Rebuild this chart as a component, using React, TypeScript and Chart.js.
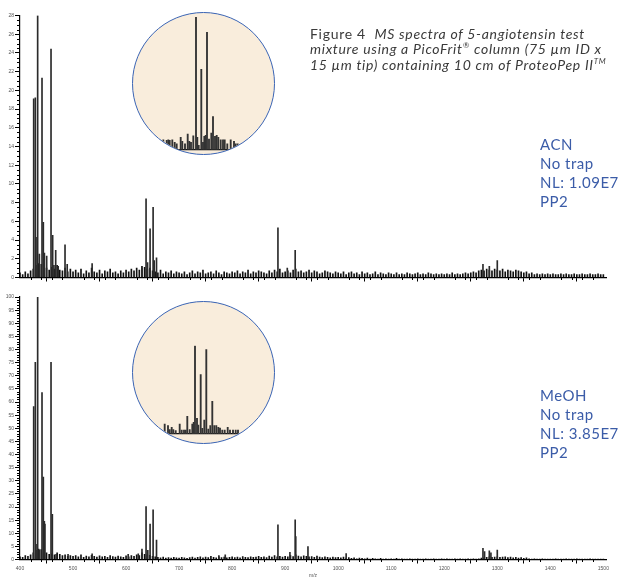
import React, { useEffect, useRef } from 'react';
import { Chart, registerables } from 'chart.js';
Chart.register(...registerables);

// ---------- DATA ----------
// Main peaks (m/z, intensity) — top panel (ACN), intensity axis 0..28
const topPeakMz = [425.8, 428.9, 430.2, 433.3, 436.5, 441.5, 444.0, 446.0, 450.3, 458.5, 461.6, 464.0, 467.3, 472.0, 484.9, 489.0, 536.0, 630.0, 637.7, 640.5, 645.3, 651.0, 653.0, 657.4, 886.4, 904.0, 918.9, 1273.0, 1285.0, 1300.0];
const topPeakInt = [19.1, 19.2, 4.3, 28.0, 2.5, 21.3, 5.9, 2.6, 2.3, 24.4, 4.5, 1.3, 2.9, 1.2, 3.5, 1.4, 1.5, 1.0, 8.4, 1.6, 5.2, 7.5, 1.8, 2.1, 5.3, 1.0, 2.9, 1.4, 1.2, 1.8];

// Main peaks — bottom panel (MeOH), relative abundance 0..100
const botPeakMz = [425.8, 428.9, 430.2, 433.3, 436.4, 441.5, 444.0, 445.9, 447.0, 458.5, 461.0, 468.0, 490.6, 536.0, 604.0, 623.0, 630.0, 637.7, 641.0, 645.3, 651.0, 657.4, 775.0, 787.0, 886.4, 909.0, 918.9, 920.0, 943.0, 1015.0, 1273.0, 1276.0, 1285.0, 1288.0, 1300.0];
const botPeakInt = [58.3, 75.1, 5.8, 100, 3.7, 63.6, 31.4, 14.5, 13.5, 75.1, 17.2, 2.0, 2.0, 2.2, 2.0, 2.2, 4.0, 20.2, 3.5, 13.5, 18.9, 7.4, 1.5, 1.8, 13.2, 2.7, 15.1, 8.7, 4.9, 2.3, 4.3, 3.0, 3.3, 2.5, 3.6];

// Baseline noise, sampled every 5 m/z from 400 to 1500
const noiseStartMz = 400;
const noiseStepMz = 5;
const topNoise = [
  0.5, 0.3, 0.6, 0.4, 0.7, 0.9, 1.3, 1.5, 1.4, 1.2, 1.0, 0.8, 1.1, 0.9, 1.3, 0.8, 0.7, 1.0, 0.6, 0.9,
  0.6, 0.8, 0.5, 0.9, 0.4, 0.7, 0.5, 1.0, 0.6, 0.5, 0.8, 0.4, 0.7, 0.6, 0.9, 0.5, 0.6, 0.4, 0.7, 0.5,
  0.8, 0.6, 0.9, 0.7, 1.0, 0.8, 1.2, 1.1, 0.9, 1.0, 0.7, 0.6, 0.5, 0.8, 0.4, 0.6, 0.5, 0.7, 0.4, 0.6,
  0.5, 0.4, 0.6, 0.3, 0.5, 0.7, 0.4, 0.6, 0.5, 0.8, 0.4, 0.5, 0.6, 0.4, 0.7, 0.5, 0.3, 0.6, 0.5, 0.4,
  0.6, 0.5, 0.7, 0.4, 0.6, 0.5, 0.8, 0.4, 0.6, 0.5, 0.7, 0.6, 0.5, 0.4, 0.7, 0.5, 0.8, 0.6, 0.9, 0.5,
  0.6, 0.7, 0.5, 0.8, 0.9, 0.6, 0.7, 0.5, 0.6, 0.8, 0.5, 0.7, 0.6, 0.4, 0.5, 0.7, 0.6, 0.5, 0.4, 0.6,
  0.5, 0.4, 0.6, 0.3, 0.5, 0.6, 0.4, 0.5, 0.3, 0.6, 0.4, 0.5, 0.3, 0.4, 0.6, 0.3, 0.5, 0.4, 0.3, 0.5,
  0.4, 0.3, 0.5, 0.3, 0.4, 0.3, 0.5, 0.4, 0.3, 0.4, 0.5, 0.3, 0.4, 0.3, 0.5, 0.4, 0.3, 0.4, 0.3, 0.4,
  0.3, 0.4, 0.3, 0.5, 0.3, 0.4, 0.3, 0.4, 0.5, 0.4, 0.5, 0.6, 0.5, 0.7, 0.8, 0.7, 0.9, 0.8, 0.7, 0.9,
  0.8, 0.7, 0.9, 0.6, 0.8, 0.7, 0.6, 0.8, 0.7, 0.6, 0.5, 0.6, 0.4, 0.5, 0.3, 0.4, 0.3, 0.4, 0.3, 0.4,
  0.3, 0.4, 0.3, 0.3, 0.4, 0.3, 0.4, 0.3, 0.3, 0.4, 0.3, 0.3, 0.4, 0.3, 0.3, 0.4, 0.3, 0.3, 0.4, 0.3,
  0.3,
];
const botNoise = [
  1.0, 0.8, 1.5, 1.2, 1.8, 2.5, 3.5, 4.0, 3.8, 3.0, 2.5, 2.0, 2.2, 1.8, 2.5, 2.0, 1.5, 1.8, 1.2, 1.5,
  1.2, 1.5, 1.0, 1.8, 0.8, 1.3, 1.0, 1.6, 1.2, 0.9, 1.4, 1.0, 1.2, 0.8, 1.5, 1.1, 0.9, 1.3, 1.0, 0.8,
  1.4, 1.0, 1.5, 1.2, 1.8, 1.5, 2.5, 2.0, 1.8, 1.6, 1.2, 1.0, 0.8, 0.6, 0.9, 0.5, 0.7, 0.5, 0.8, 0.6,
  0.5, 0.8, 0.6, 0.4, 0.7, 0.9, 0.5, 0.8, 1.0, 0.6, 0.9, 0.7, 1.2, 0.8, 0.6, 1.0, 0.7, 0.9, 0.6, 0.8,
  1.0, 0.7, 0.9, 0.6, 1.1, 0.8, 0.7, 1.0, 0.8, 0.9, 1.2, 0.8, 1.0, 0.7, 1.3, 0.9, 1.5, 1.0, 1.2, 0.9,
  1.2, 1.0, 1.5, 1.1, 1.8, 1.3, 1.0, 1.4, 1.2, 1.0, 1.1, 0.8, 1.3, 0.9, 0.7, 1.0, 0.8, 0.6, 0.9, 0.7,
  0.8, 0.6, 0.9, 0.5, 0.7, 0.4, 0.6, 0.3, 0.5, 0.4, 0.3, 0.5, 0.2, 0.4, 0.3, 0.2, 0.4, 0.2, 0.3, 0.2,
  0.3, 0.2, 0.4, 0.2, 0.3, 0.2, 0.2, 0.3, 0.2, 0.2, 0.3, 0.2, 0.2, 0.3, 0.2, 0.2, 0.3, 0.2, 0.2, 0.3,
  0.2, 0.3, 0.2, 0.2, 0.3, 0.2, 0.3, 0.2, 0.2, 0.3, 0.2, 0.3, 0.2, 0.3, 0.5, 0.6, 0.8, 1.0, 0.8, 0.9,
  1.0, 0.8, 0.9, 1.0, 0.7, 0.9, 0.6, 0.8, 0.5, 0.7, 0.4, 0.6, 0.3, 0.2, 0.3, 0.2, 0.2, 0.3, 0.2, 0.2,
  0.2, 0.2, 0.3, 0.2, 0.2, 0.2, 0.3, 0.2, 0.2, 0.2, 0.3, 0.2, 0.2, 0.2, 0.2, 0.3, 0.2, 0.2, 0.2, 0.2,
  0.2,
];

// Zoomed insets (m/z, relative intensity %)
const topInsetMz = [428.23, 428.57, 428.73, 428.87, 429.13, 429.37, 429.57, 429.97, 430.13, 430.4, 430.67, 430.83, 431.0, 431.23, 431.5, 431.63, 431.77, 432.03, 432.2, 432.33, 432.47, 432.6, 432.8, 433.03, 433.2, 433.4, 433.57, 433.73, 433.97, 434.2, 434.37, 434.63, 434.97, 435.3, 435.47, 435.67];
const topInsetInt = [7.5, 7.0, 7.5, 7.0, 7.5, 5.5, 4.5, 9.3, 6.3, 4.5, 11.8, 6.3, 5.5, 10.5, 100, 9.3, 3.3, 60.5, 5.5, 10.0, 10.8, 88.4, 8.0, 12.5, 24.9, 10.0, 10.8, 9.3, 7.5, 7.5, 7.5, 4.5, 7.5, 6.3, 4.5, 4.5];
const botInsetMz = [428.37, 428.7, 428.87, 429.07, 429.23, 429.47, 429.87, 430.07, 430.3, 430.47, 430.63, 430.87, 431.13, 431.27, 431.4, 431.6, 431.73, 431.97, 432.13, 432.33, 432.53, 432.73, 432.93, 433.13, 433.33, 433.53, 433.73, 433.9, 434.13, 434.37, 434.67, 434.9, 435.2, 435.47, 435.7];
const botInsetInt = [11.3, 9.4, 4.9, 7.5, 4.9, 3.8, 11.3, 4.5, 4.5, 4.5, 20.0, 4.9, 11.3, 13.2, 100, 17.7, 10.2, 67.2, 6.4, 15.8, 95.5, 5.7, 9.4, 37.0, 9.4, 9.4, 7.5, 6.8, 4.5, 4.5, 7.5, 4.5, 4.5, 4.5, 4.5];
const insetMinMz = 425;
const insetMaxMz = 439.3;

// Tick labels
const xTickValues = [400, 500, 600, 700, 800, 900, 1000, 1100, 1200, 1300, 1400, 1500];
const topYTicks = [0, 2, 4, 6, 8, 10, 12, 14, 16, 18, 20, 22, 24, 26, 28];
const botYTicks = [0, 5, 10, 15, 20, 25, 30, 35, 40, 45, 50, 55, 60, 65, 70, 75, 80, 85, 90, 95, 100];

// Text
const titleLines = ['MS spectra of 5-angiotensin test', 'mixture using a PicoFrit', ' column (75 µm ID x', '15 µm tip) containing 10 cm of ProteoPep II'];
const topLabels = ['ACN', 'No trap', 'NL: 1.09E7', 'PP2'];
const botLabels = ['MeOH', 'No trap', 'NL: 3.85E7', 'PP2'];

// ---------- helpers ----------
function range(a: number, b: number, step: number) {
  const out: number[] = [];
  for (let v = a; v <= b + 1e-9; v += step) out.push(Math.round(v * 1000) / 1000);
  return out;
}

const minorTickPlugin = {
  id: 'minorTicks',
  afterDraw(chart: any, _args: any, opts: any) {
    if (!opts || !opts.yMinor) return;
    const { ctx } = chart;
    const xs = chart.scales.x;
    const ys = chart.scales.y;
    ctx.save();
    ctx.strokeStyle = '#000';
    ctx.lineWidth = 1;
    ctx.beginPath();
    for (const v of opts.yMinor) {
      const p = Math.round(ys.getPixelForValue(v)) + 0.5;
      ctx.moveTo(ys.right - 3, p);
      ctx.lineTo(ys.right, p);
    }
    for (const v of opts.xMinor) {
      const p = Math.round(xs.getPixelForValue(v)) + 0.5;
      ctx.moveTo(p, xs.top);
      ctx.lineTo(p, xs.top + 2.5);
    }
    ctx.stroke();
    ctx.restore();
  },
};

const tickFont = { size: 5, family: 'Liberation Sans, Arial, sans-serif' };

type SpecProps = {
  top: number; height: number; peaksMz: number[]; peaksInt: number[]; noise: number[];
  yMax: number; yTicks: number[]; yMinorStep: number; showXLabels: boolean;
  padTop: number; padBottom: number; xAxisHeight: number;
};

function Spectrum(p: SpecProps) {
  const ref = useRef<HTMLCanvasElement>(null);
  useEffect(() => {
    if (!ref.current) return;
    const noiseData = p.noise.map((v, i) => ({ x: noiseStartMz + i * noiseStepMz, y: v }));
    const peakData = p.peaksMz.map((m, i) => ({ x: m, y: p.peaksInt[i] }));
    const yMinor = range(0, p.yMax, p.yMinorStep).filter((v) => !p.yTicks.includes(v));
    const xMinor = range(400, 1500, 20).filter((v) => !xTickValues.includes(v));
    const chart = new Chart(ref.current, {
      type: 'bar',
      data: {
        datasets: [
          { data: peakData as any, backgroundColor: '#2b2b2b', barThickness: 1, grouped: false } as any,
          { data: noiseData as any, backgroundColor: '#111', barThickness: 1, grouped: false } as any,
        ],
      },
      options: {
        animation: false,
        responsive: false,
        events: [],
        layout: { padding: { left: 0, right: 18, top: p.padTop, bottom: p.padBottom } },
        plugins: {
          legend: { display: false },
          tooltip: { enabled: false },
          minorTicks: { yMinor, xMinor },
        } as any,
        scales: {
          x: {
            type: 'linear',
            min: 400,
            max: 1505,
            offset: false,
            afterBuildTicks: (s: any) => { s.ticks = xTickValues.map((v) => ({ value: v })); },
            afterFit: (s: any) => { s.height = p.xAxisHeight; },
            ticks: {
              display: p.showXLabels, font: tickFont, color: '#555', padding: 2,
              maxRotation: 0, autoSkip: false, callback: (v: any) => String(v),
            },
            grid: { display: true, drawOnChartArea: false, drawTicks: true, tickLength: 4, color: '#000', lineWidth: 1 },
            border: { display: true, color: '#000', width: 1.2 },
            title: { display: p.showXLabels, text: 'm/z', font: tickFont, color: '#555', padding: 0 },
          },
          y: {
            type: 'linear',
            min: 0,
            max: p.yMax,
            afterBuildTicks: (s: any) => { s.ticks = p.yTicks.map((v) => ({ value: v })); },
            afterFit: (s: any) => { s.width = 20; },
            ticks: { font: tickFont, color: '#555', padding: 1, autoSkip: false, callback: (v: any) => String(v) },
            grid: { display: true, drawOnChartArea: false, drawTicks: true, tickLength: 5, color: '#000', lineWidth: 1 },
            border: { display: true, color: '#000', width: 1.2 },
          },
        },
      } as any,
      plugins: [minorTickPlugin],
    });
    return () => chart.destroy();
  }, []);
  return (
    <canvas
      ref={ref}
      width={624}
      height={p.height}
      style={{ position: 'absolute', left: 0, top: p.top, width: 624, height: p.height }}
    />
  );
}

type InsetProps = { left: number; top: number; mz: number[]; ints: number[]; padTop: number; padBottom: number };
const INSET = 143;

function Inset(p: InsetProps) {
  const ref = useRef<HTMLCanvasElement>(null);
  useEffect(() => {
    if (!ref.current) return;
    const chart = new Chart(ref.current, {
      type: 'bar',
      data: {
        datasets: [
          { data: p.mz.map((m, i) => ({ x: m, y: p.ints[i] })) as any, backgroundColor: '#333', barThickness: 1.2, grouped: false } as any,
        ],
      },
      options: {
        animation: false,
        responsive: false,
        events: [],
        layout: { padding: { left: 0, right: 0, top: p.padTop, bottom: p.padBottom } },
        plugins: { legend: { display: false }, tooltip: { enabled: false } },
        scales: {
          x: {
            type: 'linear', min: insetMinMz, max: insetMaxMz, offset: false,
            ticks: { display: false },
            grid: { display: false, drawTicks: false },
            border: { display: true, color: '#111', width: 1.3 },
            afterFit: (s: any) => { s.height = 0; },
          },
          y: { display: false, min: 0, max: 100 },
        },
      } as any,
    });
    return () => chart.destroy();
  }, []);
  return (
    <div
      style={{
        position: 'absolute', left: p.left, top: p.top, width: INSET, height: INSET,
        borderRadius: '50%', border: '1.6px solid #3a64b4', background: '#f9eddc',
        overflow: 'hidden', boxSizing: 'border-box',
      }}
    >
      <canvas
        ref={ref}
        width={INSET}
        height={INSET}
        style={{ position: 'absolute', left: -1.6, top: -1.6, width: INSET, height: INSET }}
      />
    </div>
  );
}

const titleStyle: React.CSSProperties = {
  position: 'absolute', left: 310, whiteSpace: 'nowrap', fontFamily: 'Lato, sans-serif',
  fontSize: 14, lineHeight: '16px', color: '#3a3a3a', letterSpacing: '0.7px',
};
const labelStyle: React.CSSProperties = {
  position: 'absolute', left: 540, whiteSpace: 'nowrap', fontFamily: 'Lato, sans-serif',
  fontSize: 15, lineHeight: '19px', color: '#3b5ca8', letterSpacing: '0.5px',
};
const supStyle: React.CSSProperties = { fontSize: 8, verticalAlign: 'super', lineHeight: 0 };

export default function App() {
  return (
    <div style={{ position: 'fixed', left: 0, top: 0, width: 624, height: 579, overflow: 'hidden', background: '#fff' }}>
      <Spectrum
        top={0} height={290} peaksMz={topPeakMz} peaksInt={topPeakInt} noise={topNoise}
        yMax={28} yTicks={topYTicks} yMinorStep={0.5} showXLabels={false}
        padTop={15.5} padBottom={4.5} xAxisHeight={8}
      />
      <Spectrum
        top={285} height={294} peaksMz={botPeakMz} peaksInt={botPeakInt} noise={botNoise}
        yMax={100} yTicks={botYTicks} yMinorStep={1} showXLabels={true}
        padTop={12} padBottom={0} xAxisHeight={19.5}
      />
      <Inset left={131.7} top={12.3} mz={topInsetMz} ints={topInsetInt} padTop={5} padBottom={5.3} />
      <Inset left={131.7} top={301} mz={botInsetMz} ints={botInsetInt} padTop={45.7} padBottom={9} />

      <div style={{ ...titleStyle, top: 25.5 }}>
        Figure 4&nbsp;&nbsp;<i>{titleLines[0]}</i>
      </div>
      <div style={{ ...titleStyle, top: 41.2 }}>
        <i>{titleLines[1]}<span style={supStyle}>®</span>{titleLines[2]}</i>
      </div>
      <div style={{ ...titleStyle, top: 56.9 }}>
        <i>{titleLines[3]}<span style={supStyle}>TM</span></i>
      </div>

      {topLabels.map((t, i) => (
        <div key={'t' + i} style={{ ...labelStyle, top: 135.4 + i * 19 }}>{t}</div>
      ))}
      {botLabels.map((t, i) => (
        <div key={'b' + i} style={{ ...labelStyle, top: 385.7 + i * 19 }}>{t}</div>
      ))}
    </div>
  );
}
